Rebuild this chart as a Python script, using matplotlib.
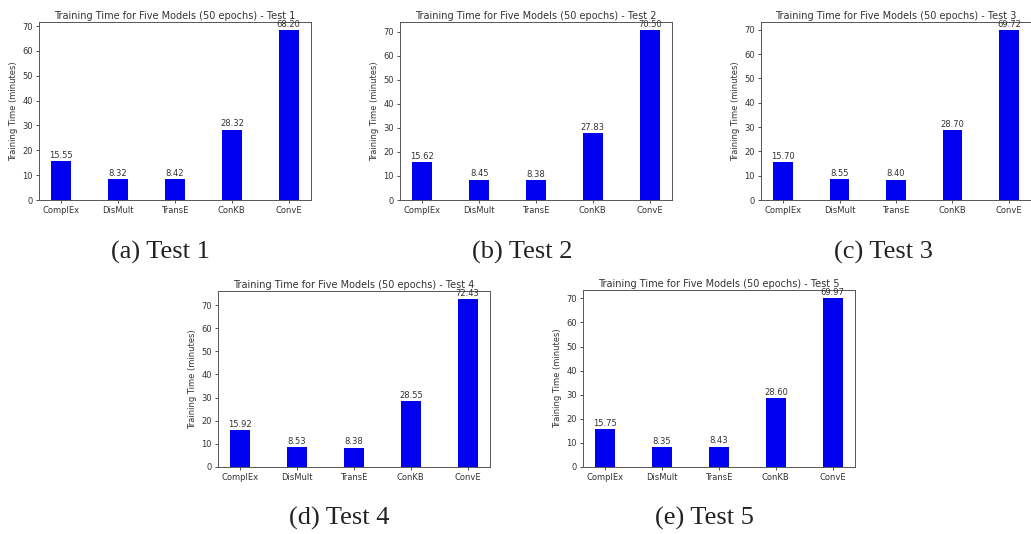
import matplotlib
matplotlib.use("Agg")
import matplotlib.pyplot as plt

models = ["ComplEx", "DisMult", "TransE", "ConKB", "ConvE"]
test1 = [15.55, 8.32, 8.42, 28.32, 68.20]
test2 = [15.62, 8.45, 8.38, 27.83, 70.50]
test3 = [15.70, 8.55, 8.40, 28.70, 69.72]
test4 = [15.92, 8.53, 8.38, 28.55, 72.43]
test5 = [15.75, 8.35, 8.43, 28.60, 69.97]
tests = [test1, test2, test3, test4, test5]
captions = ["(a) Test 1", "(b) Test 2", "(c) Test 3", "(d) Test 4", "(e) Test 5"]

fig = plt.figure(figsize=(10.31, 5.34), dpi=100)

W, H = 1031, 534
# axes boxes in pixels: left, top, right, bottom
boxes = [
    (39, 22, 311, 200),
    (400, 22, 672, 200),
    (761, 22, 1031, 200),
    (218, 291, 490, 467),
    (583, 290, 855, 467),
]
cap_pos = [(160, 252), (522, 252), (883, 252), (339, 518), (704, 518)]

txtcol = "#333333"
for k, (data, box) in enumerate(zip(tests, boxes)):
    l, t, r, b = box
    ax = fig.add_axes([l / W, (H - b) / H, (r - l) / W, (b - t) / H])
    x = list(range(len(models)))
    ax.bar(x, data, width=0.35, color="#0000f0")
    for i, v in enumerate(data):
        ax.text(i, v + 0.5, f"{v:.2f}", ha="center", va="bottom", fontsize=6, color=txtcol)
    ax.set_xticks(x)
    ax.set_xticklabels(models)
    ax.tick_params(labelsize=6, colors=txtcol, length=2.5, width=0.6, pad=2)
    ax.set_ylabel("Training Time (minutes)", fontsize=6, color=txtcol, labelpad=3)
    ax.set_title(f"Training Time for Five Models (50 epochs) - Test {k+1}", fontsize=7,
                 color=txtcol, pad=2)
    for s in ax.spines.values():
        s.set_color("#555555")
        s.set_linewidth(0.7)
    cx, cy = cap_pos[k]
    fig.text(cx / W, (H - cy) / H, captions[k], ha="center", va="center",
             fontsize=19, family="Liberation Serif", color="#222222")

fig.savefig("out.png", dpi=100)
